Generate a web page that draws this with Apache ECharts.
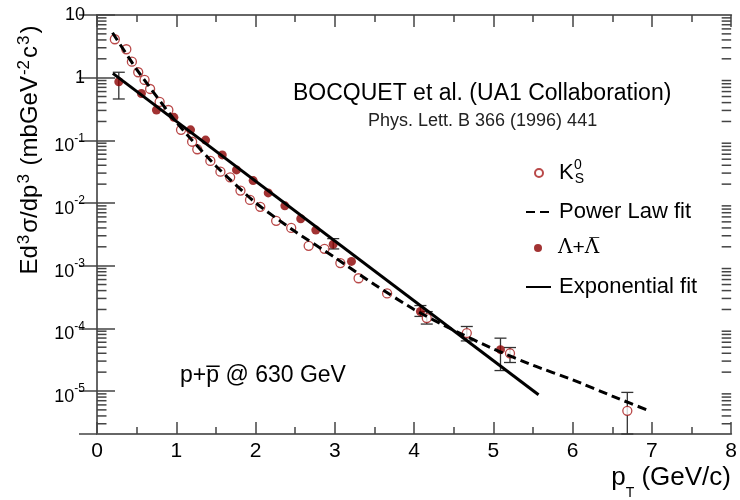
<!DOCTYPE html>
<html>
<head>
<meta charset="utf-8">
<script src="https://cdn.jsdelivr.net/npm/echarts@6/dist/echarts.min.js"></script>
<style>
html, body { margin: 0; padding: 0; background: #fff; }
#chart { width: 740px; height: 500px; }
</style>
</head>
<body>
<div id="chart"></div>
<script>
// K0s points (open circles)
var kPt  = [0.225, 0.37, 0.44, 0.52, 0.60, 0.67, 0.79, 0.90, 1.06, 1.20, 1.265, 1.43, 1.557, 1.68, 1.81, 1.93, 2.06, 2.26, 2.45, 2.67, 2.87, 3.07, 3.30, 3.66, 4.16, 4.665, 5.21, 6.69];
var kVal = [4.1, 2.84, 1.8, 1.22, 0.92, 0.66, 0.41, 0.305, 0.147, 0.095, 0.072, 0.047, 0.0316, 0.0257, 0.0158, 0.0112, 0.0087, 0.0052, 0.0040, 0.00207, 0.00186, 0.0011, 0.00063, 0.00036, 1.46e-4, 8.4e-5, 4.0e-5, 4.83e-6];
// [pT, low, high]
var kErr = [[4.16, 1.17e-4, 1.85e-4], [4.665, 6.3e-5, 1.07e-4], [5.21, 2.85e-5, 4.94e-5], [6.69, 2.06e-6, 9.5e-6]];

// Lambda + anti-Lambda (filled)
var lPt  = [0.275, 0.56, 0.75, 0.97, 1.18, 1.37, 1.58, 1.76, 1.97, 2.16, 2.37, 2.57, 2.76, 2.98, 3.21, 4.08, 5.09];
var lVal = [0.86, 0.56, 0.305, 0.233, 0.147, 0.101, 0.0585, 0.0337, 0.0228, 0.0145, 0.0090, 0.0056, 0.0037, 0.0022, 0.00117, 1.86e-4, 4.57e-5];
var lErr = [[0.275, 0.457, 1.22], [2.98, 0.00185, 0.0027], [4.08, 1.55e-4, 2.31e-4], [5.09, 2.12e-5, 6.97e-5]];

// fits
var powPt  = [0.196, 0.5, 1.0, 1.5, 2.0, 2.5, 3.0, 3.5, 4.0, 4.5, 5.0, 5.5, 6.0, 6.5, 6.97];
var powVal = [5.2, 1.36, 0.195, 0.039, 0.0101, 0.0035, 0.00135, 5.0e-4, 2.0e-4, 9.3e-5, 4.7e-5, 2.57e-5, 1.51e-5, 8.3e-6, 4.8e-6];
var expPt  = [0.2, 5.57];
var expVal = [1.17, 8.7e-6];

// log axis minor ticks
var tickMant = [2, 3, 4, 5, 6, 7, 8, 9];
var tickDec  = [-6, -5, -4, -3, -2, -1, 0];
var yMin = 2.06e-6, yMax = 10;

var minorTicks = [];
tickDec.forEach(function (d) {
    tickMant.forEach(function (m) {
        var v = m * Math.pow(10, d);
        if (v > yMin && v < yMax) minorTicks.push([0, v]);
    });
});

function pairs(xs, ys) {
    return xs.map(function (x, i) { return [x, ys[i]]; });
}

var FONT = 'Liberation Sans, Arial, sans-serif';
var tickColor = '#444';
var lineColor = '#666';

function renderErr(params, api) {
    var x = api.value(0);
    var p1 = api.coord([x, api.value(1)]);
    var p2 = api.coord([x, api.value(2)]);
    var w = 6;
    var st = { stroke: '#333', lineWidth: 1.3 };
    return {
        type: 'group',
        children: [
            { type: 'line', shape: { x1: p1[0], y1: p1[1], x2: p2[0], y2: p2[1] }, style: st },
            { type: 'line', shape: { x1: p1[0] - w, y1: p1[1], x2: p1[0] + w, y2: p1[1] }, style: st },
            { type: 'line', shape: { x1: p2[0] - w, y1: p2[1], x2: p2[0] + w, y2: p2[1] }, style: st }
        ]
    };
}

function renderMinor(params, api) {
    var y = api.coord([0, api.value(1)])[1];
    var cs = params.coordSys;
    var st = { stroke: tickColor, lineWidth: 1.5 };
    return {
        type: 'group',
        children: [
            { type: 'line', shape: { x1: cs.x, y1: y, x2: cs.x + 9.5, y2: y }, style: st },
            { type: 'line', shape: { x1: cs.x + cs.width - 9.5, y1: y, x2: cs.x + cs.width, y2: y }, style: st }
        ]
    };
}

function yLabel(value) {
    var lg = Math.log10(value);
    var e = Math.round(lg);
    if (Math.abs(lg - e) > 1e-6) return '';
    if (e === 1) return '{m|10}';
    if (e === 0) return '{m|1}';
    return '{b|10}{s|' + e + '}';
}

var xAxisBase = {
    type: 'value', min: 0, max: 8, interval: 1,
    axisLine: { show: true, onZero: false, lineStyle: { color: lineColor, width: 2 } },
    axisTick: { inside: true, length: 12, lineStyle: { color: tickColor, width: 1.5 } },
    minorTick: { show: true, splitNumber: 2, length: 7, lineStyle: { color: tickColor, width: 1.5 } },
    splitLine: { show: false }
};

var yAxisBase = {
    type: 'log', logBase: 10, min: yMin, max: yMax,
    axisLine: { show: true, lineStyle: { color: lineColor, width: 2 } },
    axisTick: { inside: true, length: 18, lineStyle: { color: tickColor, width: 1.5 } },
    splitLine: { show: false }
};

var legendText = { fontSize: 22, fontFamily: FONT, color: '#000', lineHeight: 24, padding: [0, 0, 0, 3] };
var lineLegend = {
    orient: 'vertical', padding: 0, itemWidth: 25, itemHeight: 9, left: 525,
    itemStyle: { opacity: 0 },
    textStyle: legendText
};
var dotLegend = {
    orient: 'vertical', padding: 0, itemWidth: 8, itemHeight: 8, left: 534, icon: 'circle'
};
var serifL = 'DejaVu Serif, Liberation Serif, serif';

var myChart = echarts.init(document.getElementById('chart'));
var option = {
    animation: false,
    backgroundColor: '#fff',
    textStyle: { fontFamily: FONT },
    grid: { left: 97, right: 2, top: 15, bottom: 66 },
    xAxis: [
        Object.assign({}, xAxisBase, {
            position: 'bottom',
            axisLabel: { fontSize: 21, color: '#000', margin: 7, fontFamily: FONT }
        }),
        Object.assign({}, xAxisBase, {
            position: 'top',
            axisLabel: { show: false }
        })
    ],
    yAxis: [
        Object.assign({}, yAxisBase, {
            position: 'left',
            axisLabel: {
                margin: 12, color: '#000', formatter: yLabel, showMinLabel: false,
                rich: {
                    m: { fontSize: 18, fontFamily: FONT, color: '#000' },
                    b: { fontSize: 18, fontFamily: FONT, color: '#000', padding: [12, 0, 0, 0] },
                    s: { fontSize: 12, fontFamily: FONT, color: '#000', padding: [0, 0, 4, 0] }
                }
            }
        }),
        Object.assign({}, yAxisBase, {
            position: 'right',
            axisLabel: { show: false }
        })
    ],
    legend: [
        Object.assign({}, dotLegend, {
            data: ['K0s'], top: 161,
            formatter: function () { return '{k|K}{sub|S}'; },
            textStyle: Object.assign({}, legendText, {
                padding: [0, 0, 0, 11],
                rich: {
                    k: { fontSize: 22, fontFamily: FONT, color: '#000' },
                    sub: { fontSize: 14, fontFamily: FONT, color: '#000', padding: [12, 0, 0, 1] }
                }
            })
        }),
        Object.assign({}, lineLegend, { data: ['Power Law fit'], top: 200 }),
        Object.assign({}, dotLegend, {
            data: ['Lambda'], top: 236,
            formatter: function () { return '{g|\u039B}{p|+}{g|\u039B\u0305}'; },
            textStyle: Object.assign({}, legendText, {
                padding: [0, 0, 0, 11],
                rich: {
                    g: { fontSize: 20, fontFamily: serifL, color: '#000' },
                    p: { fontSize: 21, fontFamily: FONT, color: '#000' }
                }
            })
        }),
        Object.assign({}, lineLegend, { data: ['Exponential fit'], top: 275 })
    ],
    graphic: [
        { type: 'text', x: 293, y: 94, style: { text: 'BOCQUET et al. (UA1 Collaboration)', fontSize: 23, fontFamily: FONT, fill: '#000', align: 'left', verticalAlign: 'middle' } },
        { type: 'text', x: 368, y: 121, style: { text: 'Phys. Lett. B 366 (1996) 441', fontSize: 18, fontFamily: FONT, fill: '#222', align: 'left', verticalAlign: 'middle' } },
        { type: 'text', x: 574, y: 165, style: { text: '0', fontSize: 14, fontFamily: FONT, fill: '#000', align: 'left', verticalAlign: 'middle' } },
        { type: 'text', x: 180, y: 376, style: { text: 'p+p\u0305 @ 630 GeV', fontSize: 23, fontFamily: FONT, fill: '#000', align: 'left', verticalAlign: 'middle' } },
        {
            type: 'text', x: 30, y: 150, rotation: Math.PI / 2,
            style: {
                text: '{n|Ed}{s|3}{n|\u03C3/dp}{s|3}{n| (mbGeV}{s|-2}{n|c}{s|3}{n|)}',
                align: 'center', verticalAlign: 'middle', fill: '#000',
                rich: {
                    n: { fontSize: 24, fontFamily: FONT, fill: '#000', lineHeight: 28 },
                    s: { fontSize: 17, fontFamily: FONT, fill: '#000', verticalAlign: 'top', padding: [0, 2, 0, 1] }
                }
            }
        },
        {
            type: 'text', x: 731, y: 478,
            style: {
                text: '{p|p}{t|T}{p| (GeV/c)}',
                align: 'right', verticalAlign: 'middle', fill: '#000',
                rich: {
                    p: { fontSize: 26, fontFamily: FONT, fill: '#000', lineHeight: 26 },
                    t: { fontSize: 14, fontFamily: FONT, fill: '#000', padding: [30, 0, 0, 0] }
                }
            }
        }
    ],
    series: [
        {
            name: 'minor', type: 'custom', renderItem: renderMinor, data: minorTicks,
            xAxisIndex: 0, yAxisIndex: 0, silent: true, z: 1
        },
        {
            name: 'kErr', type: 'custom', renderItem: renderErr, data: kErr,
            encode: { x: 0, y: [1, 2] }, xAxisIndex: 0, yAxisIndex: 0, silent: true, z: 2
        },
        {
            name: 'lErr', type: 'custom', renderItem: renderErr, data: lErr,
            encode: { x: 0, y: [1, 2] }, xAxisIndex: 0, yAxisIndex: 0, silent: true, z: 2
        },
        {
            name: 'K0s', type: 'scatter', data: pairs(kPt, kVal),
            symbol: 'circle', symbolSize: 9, z: 3,
            itemStyle: { color: '#fff', borderColor: '#a81c1c', borderWidth: 1.3 }
        },
        {
            name: 'Lambda', type: 'scatter', data: pairs(lPt, lVal),
            symbol: 'circle', symbolSize: 9, z: 3,
            itemStyle: { color: '#8b0000' }
        },
        {
            name: 'Power Law fit', type: 'line', data: pairs(powPt, powVal),
            symbol: 'none', smooth: 0.2, z: 4,
            lineStyle: { color: '#000', width: 3, type: [9, 5] }
        },
        {
            name: 'Exponential fit', type: 'line', data: pairs(expPt, expVal),
            symbol: 'none', z: 4,
            lineStyle: { color: '#000', width: 3 }
        }
    ]
};
myChart.setOption(option);
</script>
</body>
</html>
